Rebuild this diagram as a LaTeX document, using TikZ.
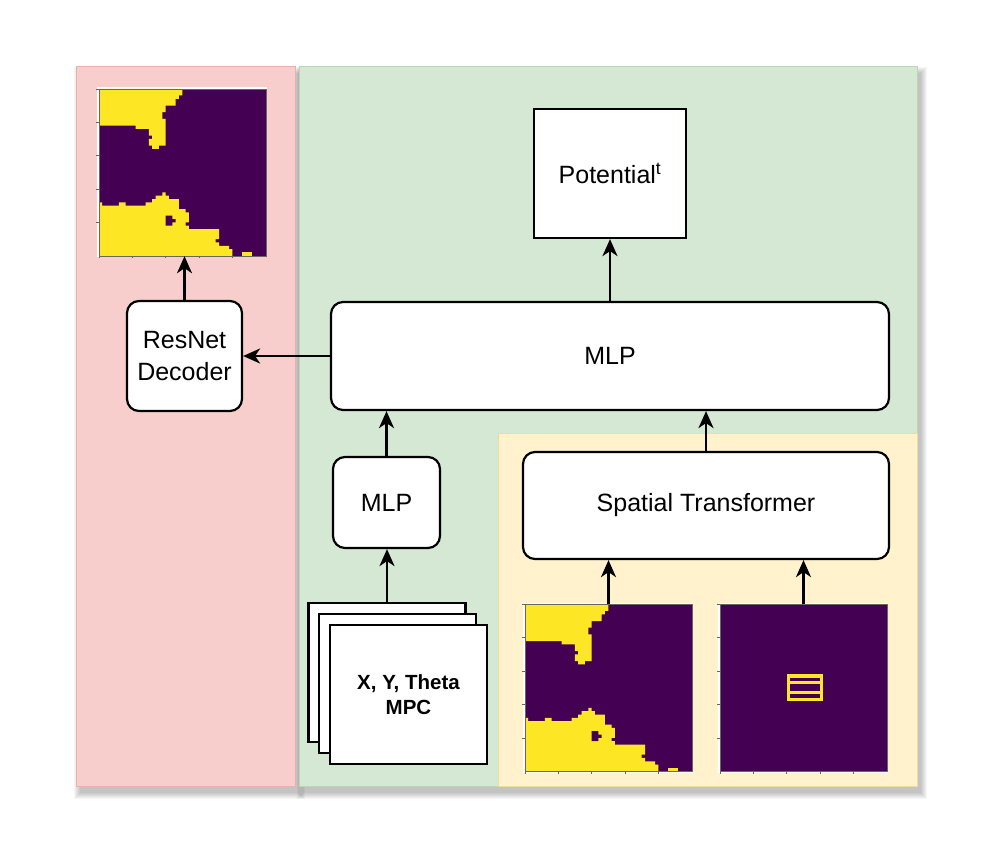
\documentclass[tikz,border=0pt]{standalone}
\usepackage{fontspec}
\setmainfont{Liberation Sans}
\usetikzlibrary{arrows.meta}
\definecolor{vpurple}{HTML}{440154}
\definecolor{vyellow}{HTML}{FDE725}
\definecolor{redfill}{HTML}{F8CECC}
\definecolor{redline}{HTML}{EBB0AE}
\definecolor{greenfill}{HTML}{D5E8D4}
\definecolor{greenline}{HTML}{B9D7B5}
\definecolor{yelfill}{HTML}{FFF2CC}
\definecolor{yelline}{HTML}{EEDC9E}
\newcommand{\mapframe}{%
  \fill[white] (-0.5,-0.5) rectangle (50.5,50.5);
  \fill[vpurple] (0,0) rectangle (50,50);}
\newcommand{\mapticks}{%
  \draw[gray!80!black, line width=0.6pt] (0,0) rectangle (50,50);
  \foreach \r in {0,10,20,30,40} {\draw[gray!80!black, line width=0.5pt] (0,\r) -- (-0.7,\r);}
  \foreach \c in {0,10,20,30,40} {\draw[gray!80!black, line width=0.5pt] (\c,50) -- (\c,50.7);}}
\newcommand{\mapA}{%
  \mapframe
  \fill[vyellow] (0,0) -- (25,0) -- (25,2) -- (24,2) -- (24,3) -- (23,3) -- (23,5) -- (20,5) -- (20,7) -- (19,7) -- (19,9) -- (20,9) -- (20,17) -- (18,17) -- (18,18) -- (16,18) -- (16,17) -- (15,17) -- (15,15) -- (16,15) -- (16,14) -- (15,14) -- (15,12) -- (11,12) -- (11,11) -- (0,11) -- cycle;
  \fill[vyellow] (0,34) -- (1,34) -- (1,35) -- (6,35) -- (6,34) -- (8,34) -- (8,35) -- (14,35) -- (14,34) -- (16,34) -- (16,33) -- (17,33) -- (17,32) -- (19,32) -- (19,31) -- (20,31) -- (20,32) -- (21,32) -- (21,33) -- (24,33) -- (24,36) -- (26,36) -- (26,37) -- (27,37) -- (27,40) -- (26,40) -- (26,41) -- (27,41) -- (27,42) -- (36,42) -- (36,45) -- (35,45) -- (35,46) -- (36,46) -- (36,47) -- (39,47) -- (39,48) -- (40,48) -- (40,50) -- (0,50) -- cycle;
  \fill[vpurple] (20,38) -- (22,38) -- (22,39) -- (23,39) -- (23,40) -- (22,40) -- (22,41) -- (20,41) -- cycle;
  \fill[vyellow] (43,49) rectangle (46,50);
  \mapticks}
\newcommand{\mapB}{%
  \mapframe
  \fill[vyellow] (20,21) rectangle (31,29);
  \fill[vpurple] (21,22) rectangle (30,28);
  \fill[vyellow] (21,23) rectangle (30,24);
  \fill[vyellow] (21,26) rectangle (30,27);
  \mapticks}
\begin{document}
\begin{tikzpicture}[x=1pt,y=-1pt,
  panel/.style={inner sep=0pt, line width=1pt},
  rbox/.style={draw=black, line width=2.2pt, rounded corners=12pt, fill=white, inner sep=0pt, align=center, font=\fontsize{25}{32}\selectfont},
  sbox/.style={draw=black, line width=2.2pt, fill=white, inner sep=0pt, align=center, font=\fontsize{25}{32}\selectfont},
  card/.style={draw=black, line width=2.2pt, fill=white, inner sep=0pt, minimum width=157pt, minimum height=139pt, align=center, font=\fontsize{20.5}{25}\selectfont\bfseries},
  imgbox/.style={inner sep=0pt, minimum width=167pt, minimum height=167pt},
  arr/.style={-{Stealth[length=17pt,width=15pt,inset=5pt]}, line width=2.2pt, draw=black}]
\useasboundingbox (0,0) rectangle (996,862);
\fill[white] (0,0) rectangle (996,862);
% shadows
\foreach \i in {0,...,6} {
  \fill[black, opacity=0.035] (76+4-\i,66+7-\i) rectangle (295+4+\i,786+7+\i);
  \fill[black, opacity=0.035] (299+4-\i,66+7-\i) rectangle (917+4+\i,786+7+\i);
}
% panels
\node[panel, draw=redline, fill=redfill, minimum width=219pt, minimum height=720pt] (panelR) at (185.5,426) {};
\node[panel, draw=greenline, fill=greenfill, minimum width=618pt, minimum height=720pt] (panelG) at (608,426) {};
\node[panel, draw=yelline, fill=yelfill, minimum width=419pt, minimum height=353pt] (panelY) at (707.5,609.5) {};
% images
\node[imgbox] (imgTL) at (182.5,172.5) {};
\node[imgbox] (imgBL) at (608.5,688) {};
\node[imgbox] (imgR) at (803.5,688) {};
\begin{scope}[shift={(imgTL.north west)}, x=3.34pt, y=-3.34pt] \mapA \end{scope}
\begin{scope}[shift={(imgBL.north west)}, x=3.34pt, y=-3.34pt] \mapA \end{scope}
\begin{scope}[shift={(imgR.north west)}, x=3.34pt, y=-3.34pt] \mapB \end{scope}
% boxes
\node[sbox, minimum width=152pt, minimum height=129pt] (pot) at (610,173.5) {Potential\textsuperscript{t}};
\node[rbox, minimum width=558pt, minimum height=108pt] (mlp) at (610,356) {MLP};
\node[rbox, minimum width=115pt, minimum height=110pt] (resnet) at (184.5,356) {ResNet\\Decoder};
\node[rbox, minimum width=107pt, minimum height=91pt] (smlp) at (386.5,502.5) {MLP};
\node[rbox, minimum width=366pt, minimum height=107pt] (st) at (706,505.5) {Spatial Transformer};
\node[card] (card1) at (387,672.5) {};
\node[card] (card2) at (397.5,683.5) {};
\node[card] (card3) at (408.5,694.5) {X, Y, Theta\\MPC};
% arrows
\draw[arr] (mlp.north) -- (pot.south);
\draw[arr] (mlp.west) -- (resnet.east);
\draw[arr] (resnet.north) -- (resnet.north |- imgTL.south);
\draw[arr] (smlp.north) -- (smlp.north |- mlp.south);
\draw[arr] (card1.north) -- (card1.north |- smlp.south);
\draw[arr] (st.north) -- (st.north |- mlp.south);
\draw[arr] (imgBL.north) -- (imgBL.north |- st.south);
\draw[arr] (imgR.north) -- (imgR.north |- st.south);
\end{tikzpicture}
\end{document}
